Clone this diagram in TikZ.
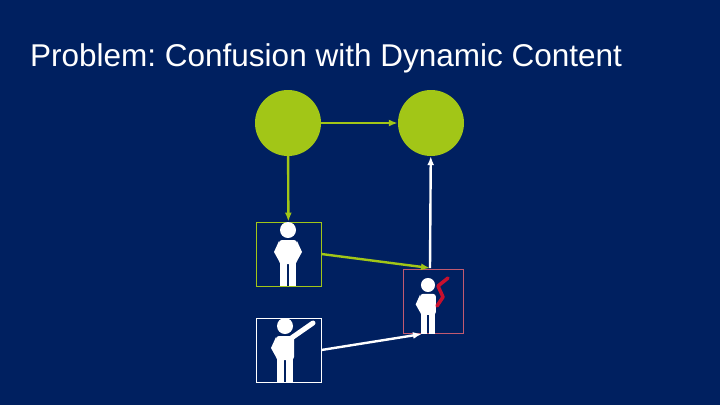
\documentclass[tikz,border=0pt]{standalone}
\usepackage{fontspec}
\setmainfont{Liberation Sans}
\frenchspacing
\definecolor{bgblue}{HTML}{002060}
\definecolor{lime}{HTML}{A2C617}
\definecolor{alert}{HTML}{C8102E}
\definecolor{alertframe}{HTML}{C05A70}
\tikzset{
  bubble/.style={circle,fill=lime,minimum size=66pt,inner sep=0pt},
  slot/.style={draw,minimum width=65pt,minimum height=64pt,inner sep=0pt,line width=0.8pt},
  link/.style={-{Latex[length=9pt,width=7pt]},line width=2.4pt},
  pics/person/.style={code={
    \fill[white] (0,0) circle (8);
    \fill[white,rounded corners=3pt] (-9,34) -- (-9,10) -- (9,10) -- (9,34) -- cycle;
    \fill[white] (-9,11) -- (-14,22) -- (-9,31) -- cycle;
    \fill[white] (-8,33) rectangle (-1,56);
    \fill[white] (1,33) rectangle (8,56);
  }},
  pics/hipright/.style={code={\fill[white] (9,11) -- (14,22) -- (9,31) -- cycle;}}
}
\usetikzlibrary{arrows.meta}
\begin{document}
\begin{tikzpicture}[x=1pt,y=-1pt]
  \fill[bgblue] (0,0) rectangle (720,405);
  \node[anchor=west,text=white,font=\fontsize{31.5}{34}\selectfont,inner sep=0pt] (title) at (30,58)
    {Problem: Confusion with Dynamic Content};

  \node[bubble] (src) at (288,123) {};
  \node[bubble] (dst) at (431,123) {};
  \node[slot,draw=lime] (calm) at (288.5,254) {};
  \node[slot,draw=white] (wave) at (288.5,350) {};
  \node[slot,draw=alertframe,minimum width=60pt] (mixed) at (433,301) {};
  \coordinate (mixtop) at (430,268);

  % figures
  \pic at (288,230) {person};
  \pic at (288,230) {hipright};
  \pic at (285,326) {person};
  \draw[white,line width=5pt,line cap=round] (290,339) -- (313,323);
  \pic[scale=0.88] at (428,285) {person};
  \draw[alert,line width=3.5pt,line cap=round,line join=round]
    (448,278) -- (438,286) -- (443,297) -- (437,306);

  % connectors
  \draw[link,lime] (src) -- (dst);
  \draw[link,lime] (src) -- (calm);
  \draw[link,lime] (calm.east) -- (mixtop);
  \draw[link,white] (wave.east) -- (422,334);
  \draw[link,white] (mixtop) -- (dst);
\end{tikzpicture}
\end{document}
